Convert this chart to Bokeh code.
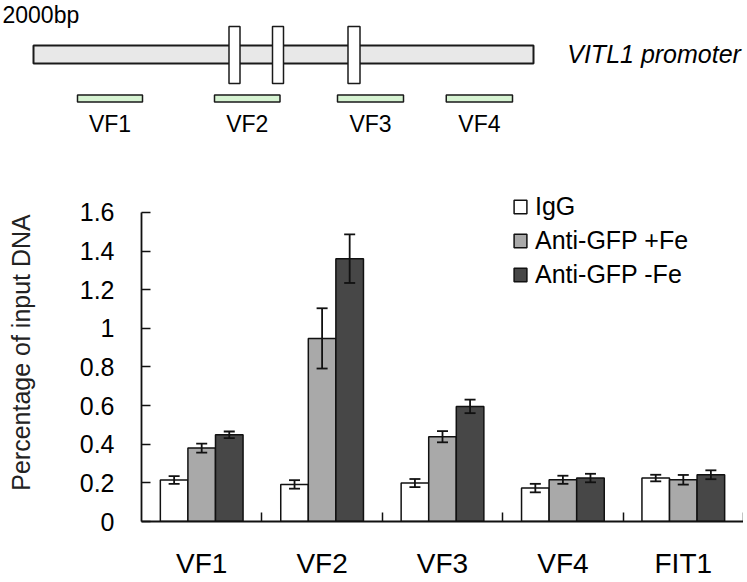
from bokeh.plotting import figure
from bokeh.models import (ColumnDataSource, Range1d, FixedTicker, NumeralTickFormatter,
                          Whisker, TeeHead)
from bokeh.core.properties import value
from bokeh.embed import file_html
from bokeh.resources import INLINE

FONT = "Liberation Sans"

# ---------------- data ----------------
categories = ["VF1", "VF2", "VF3", "VF4", "FIT1"]
series_names = ["IgG", "Anti-GFP +Fe", "Anti-GFP -Fe"]
igg = [0.215, 0.192, 0.199, 0.173, 0.225]
igg_err = [0.020, 0.022, 0.021, 0.022, 0.017]
plus_fe = [0.380, 0.948, 0.439, 0.216, 0.216]
plus_fe_err = [0.023, 0.156, 0.029, 0.021, 0.025]
minus_fe = [0.449, 1.361, 0.596, 0.225, 0.242]
minus_fe_err = [0.017, 0.126, 0.035, 0.022, 0.023]
y_ticks = [0, 0.2, 0.4, 0.6, 0.8, 1, 1.2, 1.4, 1.6]

# promoter diagram (bp from left end)
promoter_length = 2000
box_starts = [782, 956, 1258]
box_ends = [826, 1000, 1306]
fragment_names = ["VF1", "VF2", "VF3", "VF4"]
fragment_starts = [176, 724, 1216, 1651]
fragment_ends = [436, 986, 1480, 1916]

# ---------------- top diagram ----------------
top = figure(width=747, height=175, output_backend="svg", toolbar_location=None,
             x_range=Range1d(-132, -132 + 747 * 4), y_range=Range1d(175, 0),
             min_border_left=0, min_border_right=0, min_border_top=0, min_border_bottom=0)
top.axis.visible = False
top.grid.visible = False
top.outline_line_color = None

top.text(x=[-124], y=[14], text=["2000bp"], text_font=value(FONT), text_font_size="23px",
         text_baseline="alphabetic", text_align="left", text_color="black")
top.quad(left=[0], right=[promoter_length], top=[45], bottom=[63],
         fill_color="#e8e8e8", line_color="#1a1a1a", line_width=2)
top.quad(left=box_starts, right=box_ends, top=26, bottom=83,
         fill_color="white", line_color="#1a1a1a", line_width=1.5)
top.quad(left=fragment_starts, right=fragment_ends, top=94.5, bottom=101.5,
         fill_color="#d6f3d2", line_color="#1a1a1a", line_width=1.5)
frag_centers = [(a + b) / 2 for a, b in zip(fragment_starts, fragment_ends)]
top.text(x=frag_centers, y=123, text=fragment_names, text_font=value(FONT),
         text_font_size="23px", text_align="center", text_baseline="alphabetic",
         text_color="black")
top.text(x=[2135], y=[53], text=["VITL1 promoter"], text_font=value(FONT),
         text_font_size="25px", text_font_style="italic", text_align="left",
         text_baseline="middle", text_color="black")

# ---------------- bar chart ----------------
p = figure(width=743, height=406, output_backend="svg", toolbar_location=None,
           x_range=Range1d(0, len(categories)), y_range=Range1d(0, 1.75),
           min_border_left=141, min_border_right=0, min_border_top=8, min_border_bottom=60)
p.grid.visible = False
p.outline_line_color = None

offsets = [-0.229, 0.0, 0.229]
bar_w = 0.229
values = [igg, plus_fe, minus_fe]
errors = [igg_err, plus_fe_err, minus_fe_err]
fills = ["white", "#a9a9a9", "#474747"]

for name, vals, errs, off, col in zip(series_names, values, errors, offsets, fills):
    xs = [i + 0.5 + off for i in range(len(categories))]
    src = ColumnDataSource(dict(x=xs, top=vals,
                                upper=[v + e for v, e in zip(vals, errs)],
                                lower=[v - e for v, e in zip(vals, errs)]))
    p.vbar(x="x", top="top", width=bar_w, bottom=0, source=src, fill_color=col,
           line_color="#111111", line_width=1.5, legend_label=name)
    w = Whisker(base="x", upper="upper", lower="lower", source=src, level="overlay",
                line_color="#111111", line_width=1.8,
                upper_head=TeeHead(size=11, line_color="#111111", line_width=1.8),
                lower_head=TeeHead(size=11, line_color="#111111", line_width=1.8))
    p.add_layout(w)

# x axis
xa = p.xaxis[0]
xa.ticker = FixedTicker(ticks=[i + 0.5 for i in range(len(categories))],
                        minor_ticks=list(range(1, len(categories) + 1)))
xa.major_label_overrides = {i + 0.5: c for i, c in enumerate(categories)}
xa.major_tick_line_color = None
xa.minor_tick_in = 9
xa.minor_tick_out = 0
xa.minor_tick_line_width = 1.5
xa.minor_tick_line_color = "#111111"
xa.axis_line_width = 1.8
xa.axis_line_color = "#111111"
xa.major_label_text_font = FONT
xa.major_label_text_font_size = "28px"
xa.major_label_text_color = "black"
xa.major_label_standoff = 20

# y axis
ya = p.yaxis[0]
ya.ticker = FixedTicker(ticks=y_ticks)
ya.bounds = (0, 1.6)
ya.formatter = NumeralTickFormatter(format="0.[0]")
ya.major_tick_in = 9
ya.major_tick_out = 0
ya.major_tick_line_width = 1.5
ya.major_tick_line_color = "#111111"
ya.minor_tick_line_color = None
ya.axis_line_width = 1.8
ya.axis_line_color = "#111111"
ya.major_label_text_font = FONT
ya.major_label_text_font_size = "25px"
ya.major_label_text_color = "black"
ya.major_label_standoff = 27
ya.axis_label = "Percentage of input DNA"
ya.axis_label_text_font = FONT
ya.axis_label_text_font_size = "25px"
ya.axis_label_text_font_style = "normal"
ya.axis_label_text_color = "#222222"
ya.axis_label_standoff = 42

# legend
lg = p.legend[0]
lg.location = (371, 232)
lg.padding = 0
lg.margin = 0
lg.spacing = 5
lg.glyph_width = 16
lg.glyph_height = 17
lg.label_height = 17
lg.label_standoff = 7
lg.label_text_font = FONT
lg.label_text_font_size = "25px"
lg.label_text_color = "black"
lg.border_line_color = None
lg.background_fill_alpha = 0

open("out.html", "w").write(file_html([top, p], INLINE))
